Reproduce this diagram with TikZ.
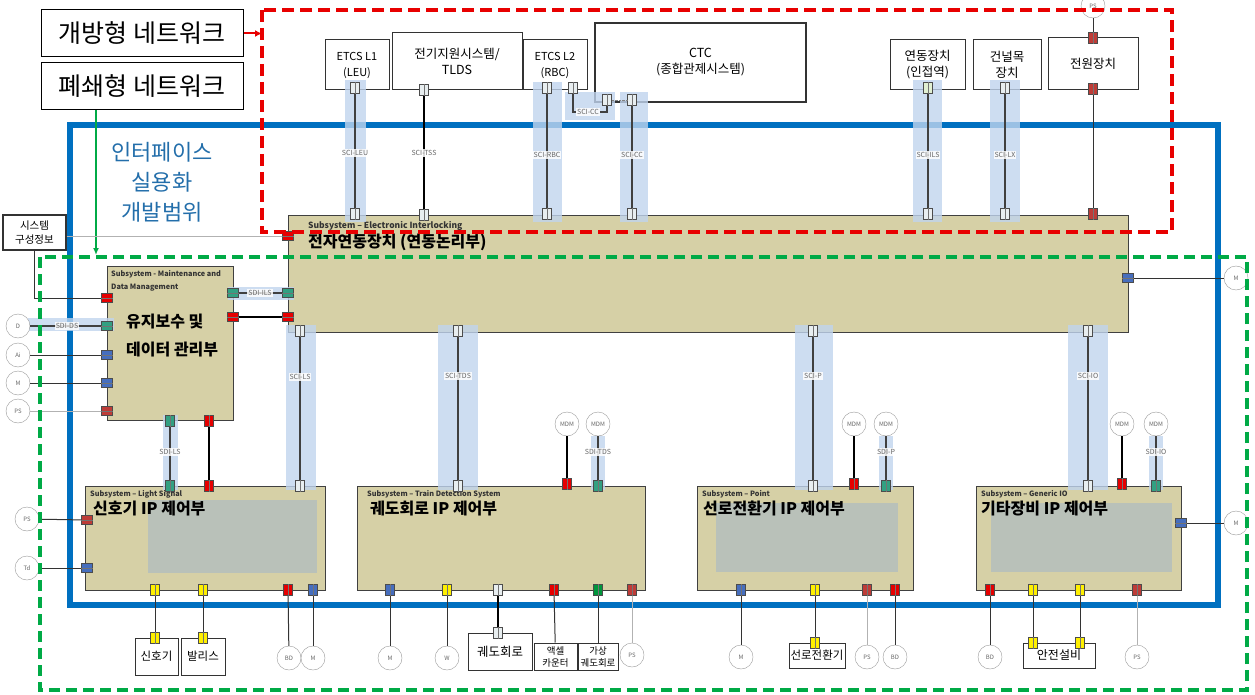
\documentclass[tikz,border=0pt]{standalone}
\usepackage{fontspec}
\setmainfont{Noto Sans CJK KR}
\usetikzlibrary{arrows.meta}

\definecolor{netred}{RGB}{232,0,0}
\definecolor{netgreen}{RGB}{0,170,70}
\definecolor{scopeblue}{RGB}{0,112,192}
\definecolor{titleblue}{RGB}{35,110,170}
\definecolor{khaki}{RGB}{214,208,166}
\definecolor{panelgray}{RGB}{178,190,190}
\definecolor{bandblue}{RGB}{192,212,238}
\definecolor{portred}{RGB}{230,0,0}
\definecolor{portbrown}{RGB}{190,60,55}
\definecolor{portyellow}{RGB}{255,240,0}
\definecolor{portblue}{RGB}{70,110,190}
\definecolor{portteal}{RGB}{50,160,130}
\definecolor{portgreen}{RGB}{0,150,60}
\definecolor{portwhite}{RGB}{232,238,240}
\definecolor{portpale}{RGB}{225,240,210}

\tikzset{
  netbox/.style={draw, line width=1pt, minimum width=202pt, minimum height=47pt, inner sep=0pt, font=\fontsize{25}{26}\selectfont},
  box/.style={draw=black!80, fill=white, line width=1pt, align=center, inner sep=1pt, font=\fontsize{12.5}{16}\selectfont},
  small/.style={draw=black!80, fill=white, line width=1pt, align=center, inner sep=0pt, font=\fontsize{11.5}{13}\selectfont},
  sub/.style={draw=black!75, fill=khaki, line width=0.8pt, anchor=north west, inner sep=0pt},
  panel/.style={fill=panelgray, fill opacity=0.8},
  band/.style={fill=bandblue, fill opacity=0.8},
  port/.style={draw=black!70, line width=0.5pt, minimum width=9pt, minimum height=11pt, inner sep=0pt},
  dev/.style={circle, draw=black!40, fill=white, minimum size=24pt, inner sep=0pt, text=black!60, font=\fontsize{6}{6}\selectfont},
  lab/.style={fill=white, fill opacity=0.85, text opacity=1, text=black!60, inner sep=1pt, font=\fontsize{7}{7}\selectfont},
  wire/.style={draw=black!80, line width=1pt},
  bus/.style={draw=black!75, line width=1.8pt},
  heavy/.style={draw=black, line width=2.6pt},
  faint/.style={draw=black!30, line width=0.8pt},
  subtitle/.style={anchor=north west, inner sep=0pt, align=left, text=black!80, font=\fontsize{7.3}{13}\selectfont\bfseries},
  subname/.style={anchor=north west, inner sep=0pt, align=left, font=\fontsize{16}{28}\selectfont\bfseries},
}

\newcommand\vport[3]{\node[port,fill=#3] (#1) at (#2) {}; \draw[black!55] (#1.north) -- (#1.south);}
\newcommand\hport[3]{\node[port,fill=#3,minimum width=11pt,minimum height=9pt] (#1) at (#2) {}; \draw[black!55] (#1.west) -- (#1.east);}

\begin{document}
\begin{tikzpicture}[x=1pt,y=-1pt]
\useasboundingbox (0,0) rectangle (1255,695);

\draw[scopeblue, line width=5.5pt] (70,125) rectangle (1218,605);

% legend
\node[netbox] (open) at (142,33.5) {개방형 네트워크};
\node[netbox] (closed) at (142,86.5) {폐쇄형 네트워크};
\coordinate (redin) at (262,33.5);
\coordinate (greenin) at (96,255);
\draw[netred, line width=2pt, -{Latex[length=7pt,width=7pt]}] (open) -- (redin);
\draw[netgreen, line width=1.5pt, -{Latex[length=7pt,width=6pt]}] (closed.south -| greenin) -- (greenin);

\node[text=titleblue, align=center, font=\fontsize{22}{30}\selectfont] (scope) at (162,182) {인터페이스\\실용화\\개발범위};

% open network devices
\node[box, minimum width=64pt, minimum height=50pt, font=\fontsize{11}{16}\selectfont] (leu) at (357,65) {ETCS L1\\(LEU)};
\node[box, minimum width=130pt, minimum height=57pt] (tlds) at (457,61.5) {전기지원시스템/\\TLDS};
\node[box, minimum width=64pt, minimum height=50pt, font=\fontsize{11}{16}\selectfont] (rbc) at (555,65) {ETCS L2\\(RBC)};
\node[box, minimum width=211pt, minimum height=79pt, line width=1.6pt] (ctc) at (700.5,62.5) {CTC\\(종합관제시스템)};
\node[box, minimum width=75pt, minimum height=50pt] (adj) at (927.5,65) {연동장치\\(인접역)};
\node[box, minimum width=68pt, minimum height=50pt] (lx) at (1007,65) {건널목\\장치};
\node[box, minimum width=90pt, minimum height=52pt] (pwr) at (1093,64) {전원장치};

% subsystems
\node[sub, minimum width=840pt, minimum height=117pt] (ei) at (288,215) {};
\node[sub, minimum width=126pt, minimum height=154pt] (mnt) at (107,266) {};
\node[sub, minimum width=240pt, minimum height=104pt] (ls) at (85,486) {};
\node[sub, minimum width=288pt, minimum height=104pt] (td) at (357,486) {};
\node[sub, minimum width=216pt, minimum height=104pt] (pt) at (697,486) {};
\node[sub, minimum width=205pt, minimum height=104pt] (io) at (976,486) {};
\fill[panel] (148,500) rectangle (317,573);
\fill[panel] (716,503) rectangle (898,572);
\fill[panel] (991,503) rectangle (1172,572);

\node[subtitle, font=\fontsize{8.5}{10}\selectfont\bfseries] at (308,221) {Subsystem – Electronic Interlocking};
\node[subname] at (308,234) {전자연동장치 (연동논리부)};
\node[subtitle] at (111,270) {Subsystem - Maintenance and\\Data Management};
\node[subname] at (126,314) {유지보수 및\\데이터 관리부};
\node[subtitle] at (90,490) {Subsystem – Light Signal};
\node[subname] at (93,501) {신호기 IP 제어부};
\node[subtitle] at (367,490) {Subsystem – Train Detection System};
\node[subname] at (370,501) {궤도회로 IP 제어부};
\node[subtitle] at (702,490) {Subsystem – Point};
\node[subname] at (703,501) {선로전환기 IP 제어부};
\node[subtitle] at (981,490) {Subsystem – Generic IO};
\node[subname] at (981,501) {기타장비 IP 제어부};

% interface bands
\fill[band] (345,80) rectangle (366,222);
\fill[band] (533,82) rectangle (562,222);
\fill[band] (565,92) rectangle (615,120);
\fill[band] (620,92) rectangle (648,222);
\fill[band] (913,80) rectangle (942,222);
\fill[band] (990,80) rectangle (1020,222);
\fill[band] (286,325) rectangle (316,490);
\fill[band] (438,325) rectangle (478,490);
\fill[band] (795,325) rectangle (833,490);
\fill[band] (1068,325) rectangle (1108,490);
\fill[band] (163,415) rectangle (178,490);
\fill[band] (591,436) rectangle (605,490);
\fill[band] (879,436) rectangle (893,490);
\fill[band] (1149,436) rectangle (1163,490);
\fill[band] (228,287) rectangle (294,300);
\fill[band] (28,318) rectangle (114,331);

% field devices
\node[box, minimum width=63pt, minimum height=35pt, line width=1.3pt, font=\fontsize{10.5}{14}\selectfont] (cfg) at (34.5,232.5) {시스템\\구성정보};
\node[small, minimum width=43pt, minimum height=37pt] (sig) at (156.5,656.5) {신호기};
\node[small, minimum width=44pt, minimum height=37pt] (bal) at (203,656.5) {발리스};
\node[small, minimum width=64pt, minimum height=37pt, font=\fontsize{12.5}{14}\selectfont] (tc) at (500,651.5) {궤도회로};
\node[small, minimum width=43pt, minimum height=27pt, font=\fontsize{9.5}{12}\selectfont] (ac) at (555.5,656.5) {액셀\\카운터};
\node[small, minimum width=40pt, minimum height=27pt, font=\fontsize{9.5}{12}\selectfont] (vt) at (598,656.5) {가상\\궤도회로};
\node[small, minimum width=56pt, minimum height=25pt] (pm) at (817,655.5) {선로전환기};
\node[small, minimum width=72pt, minimum height=25pt, font=\fontsize{12}{13}\selectfont] (sf) at (1059,655.5) {안전설비};

\node[dev] (pstop) at (1093,6) {PS};
\node[dev] (d) at (18,326) {D};
\node[dev] (ai) at (18,355) {Ai};
\node[dev] (m1) at (18,383) {M};
\node[dev] (ps1) at (18,411) {PS};
\node[dev] (ps2) at (27,519) {PS};
\node[dev] (tdc) at (27,568) {Td};
\node[dev] (bd1) at (289,658) {BD};
\node[dev] (m2) at (313,658) {M};
\node[dev] (m3) at (390,658) {M};
\node[dev] (w) at (447,658) {W};
\node[dev] (ps3) at (632,655) {PS};
\node[dev] (m4) at (741,657) {M};
\node[dev] (ps4) at (867,657) {PS};
\node[dev] (bd2) at (895,657) {BD};
\node[dev] (bd3) at (990,657) {BD};
\node[dev] (ps5) at (1137,657) {PS};
\node[dev] (m5) at (1236,523) {M};
\node[dev] (m6) at (1236,278) {M};
\node[dev] (mdm1) at (567,424) {MDM};
\node[dev] (mdm2) at (598,424) {MDM};
\node[dev] (mdm3) at (854,424) {MDM};
\node[dev] (mdm4) at (886,424) {MDM};
\node[dev] (mdm5) at (1122,424) {MDM};
\node[dev] (mdm6) at (1156,424) {MDM};

% ports
\vport{leuT}{355,88}{portwhite}
\vport{tldsT}{424,90}{portwhite}
\vport{rbcT}{547,88}{portwhite}
\vport{rbcC}{573,88}{portwhite}
\vport{ctcL}{607,100}{portwhite}
\vport{ctcT}{632,100}{portwhite}
\vport{adjT}{928,88}{portpale}
\vport{lxT}{1005,88}{portwhite}
\vport{pwrT}{1093,38}{portbrown}
\vport{pwrB}{1093,89}{portbrown}

\vport{eiLeu}{355,214}{portwhite}
\vport{eiTss}{424,215}{portwhite}
\vport{eiRbc}{547,214}{portwhite}
\vport{eiCc}{632,214}{portwhite}
\vport{eiIls}{928,214}{portwhite}
\vport{eiLx}{1005,214}{portwhite}
\vport{eiPwr}{1093,214}{portbrown}
\hport{eiCfg}{288,236}{portred}
\hport{eiSdi}{288,293}{portteal}
\hport{eiMnt}{288,317}{portred}
\hport{eiM}{1128,278}{portblue}
\vport{eiLs}{300,331}{portwhite}
\vport{eiTds}{458,331}{portwhite}
\vport{eiP}{813,331}{portwhite}
\vport{eiIo}{1088,331}{portwhite}

\hport{mtCfg}{107,298}{portred}
\hport{mtDs}{107,326}{portteal}
\hport{mtAi}{107,355}{portblue}
\hport{mtM}{107,383}{portblue}
\hport{mtPs}{107,411}{portbrown}
\hport{mtSdi}{233,293}{portteal}
\hport{mtEi}{233,317}{portred}
\vport{mtLs}{170,421}{portteal}
\vport{mtRed}{209,421}{portred}

\vport{lsSdi}{170,486}{portteal}
\vport{lsRed}{209,486}{portred}
\vport{lsSci}{300,486}{portwhite}
\hport{lsPs}{87,520}{portbrown}
\hport{lsTd}{87,568}{portblue}
\vport{lsY1}{155,590}{portyellow}
\vport{lsY2}{203,590}{portyellow}
\vport{lsBd}{288,590}{portred}
\vport{lsM}{313,590}{portblue}
\vport{sigP}{155,638}{portyellow}
\vport{balP}{203,638}{portyellow}

\vport{tdSci}{458,486}{portwhite}
\vport{tdMdm}{567,484}{portred}
\vport{tdSdi}{598,486}{portteal}
\vport{tdM}{390,590}{portblue}
\vport{tdW}{447,590}{portyellow}
\vport{tdTc}{498,590}{portwhite}
\vport{tdAc}{554,590}{portred}
\vport{tdVt}{598,590}{portgreen}
\vport{tdPs}{632,590}{portbrown}
\vport{tcP}{498,633}{portwhite}

\vport{ptSci}{813,486}{portwhite}
\vport{ptMdm}{854,484}{portred}
\vport{ptSdi}{886,486}{portteal}
\vport{ptM}{741,590}{portblue}
\vport{ptY}{815,590}{portyellow}
\vport{ptPs}{867,590}{portbrown}
\vport{ptBd}{895,590}{portred}
\vport{pmP}{815,643}{portyellow}

\vport{ioSci}{1088,486}{portwhite}
\vport{ioMdm}{1122,484}{portred}
\vport{ioSdi}{1156,486}{portteal}
\hport{ioM}{1181,523}{portblue}
\vport{ioBd}{990,590}{portred}
\vport{ioY1}{1033,590}{portyellow}
\vport{ioY2}{1080,590}{portyellow}
\vport{ioPs}{1137,590}{portbrown}
\vport{sfP1}{1033,643}{portyellow}
\vport{sfP2}{1080,643}{portyellow}

% open network links
\draw[bus] (leuT) -- (eiLeu);
\draw[heavy] (tldsT) -- (eiTss);
\draw[bus] (rbcT) -- (eiRbc);
\node[lab] (ccLab) at (588,112) {SCI-CC};
\draw[bus] (rbcC) |- (ccLab.west);
\draw[bus] (ctcL) |- (ccLab.east);
\draw[black!50, densely dotted] (ctcL) -- (ctcT);
\draw[bus] (ctcT) -- (eiCc);
\draw[bus] (adjT) -- (eiIls);
\draw[bus] (lxT) -- (eiLx);
\draw[wire] (pstop) -- (pwrT);
\draw[wire] (pwrB) -- (eiPwr);

% closed network links
\draw[wire] (cfg.south) |- (mtCfg);
\draw[faint] (cfg.east |- eiCfg) -- (eiCfg);
\draw[bus] (d) -- (mtDs);
\draw[wire] (ai) -- (mtAi);
\draw[wire] (m1) -- (mtM);
\draw[faint] (ps1) -- (mtPs);
\draw[bus] (mtSdi) -- (eiSdi);
\draw[heavy] (mtEi) -- (eiMnt);
\draw[bus] (mtLs) -- (lsSdi);
\draw[heavy] (mtRed) -- (lsRed);
\draw[wire] (eiM) -- (m6);

\draw[bus] (eiLs) -- (lsSci);
\draw[wire] (ps2) -- (lsPs);
\draw[wire] (tdc) -- (lsTd);
\draw[wire] (lsY1) -- (sigP);
\draw[wire] (lsY2) -- (balP);
\draw[wire] (lsBd) -- (bd1);
\draw[wire] (lsM) -- (m2);

\draw[bus] (eiTds) -- (tdSci);
\draw[heavy] (mdm1) -- (tdMdm);
\draw[bus] (mdm2) -- (tdSdi);
\draw[wire] (tdM) -- (m3);
\draw[wire] (tdW) -- (w);
\draw[heavy] (tdTc) -- (tcP);
\draw[wire] (tdAc) -- (ac);
\draw[wire] (tdVt) -- (vt);
\draw[faint] (tdPs) -- (ps3);

\draw[bus] (eiP) -- (ptSci);
\draw[heavy] (mdm3) -- (ptMdm);
\draw[bus] (mdm4) -- (ptSdi);
\draw[wire] (ptM) -- (m4);
\draw[wire] (ptY) -- (pmP);
\draw[faint] (ptPs) -- (ps4);
\draw[wire] (ptBd) -- (bd2);

\draw[bus] (eiIo) -- (ioSci);
\draw[heavy] (mdm5) -- (ioMdm);
\draw[bus] (mdm6) -- (ioSdi);
\draw[wire] (ioM) -- (m5);
\draw[wire] (ioBd) -- (bd3);
\draw[wire] (ioY1) -- (sfP1);
\draw[wire] (ioY2) -- (sfP2);
\draw[faint] (ioPs) -- (ps5);

% interface labels
\node[lab] at (355,153) {SCI-LEU};
\node[lab] at (424,153) {SCI-TSS};
\node[lab] at (547,155) {SCI-RBC};
\node[lab] at (632,155) {SCI-CC};
\node[lab] at (928,155) {SCI-ILS};
\node[lab] at (1005,155) {SCI-LX};
\node[lab] at (67,326) {SDI-DS};
\node[lab] at (260,293) {SDI-ILS};
\node[lab] at (170,452) {SDI-LS};
\node[lab] at (300,377) {SCI-LS};
\node[lab] at (458,376) {SCI-TDS};
\node[lab] at (813,376) {SCI-P};
\node[lab] at (1088,376) {SCI-IO};
\node[lab] at (598,452) {SDI-TDS};
\node[lab] at (886,452) {SDI-P};
\node[lab] at (1156,452) {SDI-IO};

% network boundaries
\draw[netred, line width=3.5pt, dash pattern=on 12pt off 6pt] (262,10) rectangle (1172,232);
\draw[netgreen, line width=3.5pt, dash pattern=on 11pt off 6pt] (40,257) rectangle (1247,690);
\end{tikzpicture}
\end{document}
